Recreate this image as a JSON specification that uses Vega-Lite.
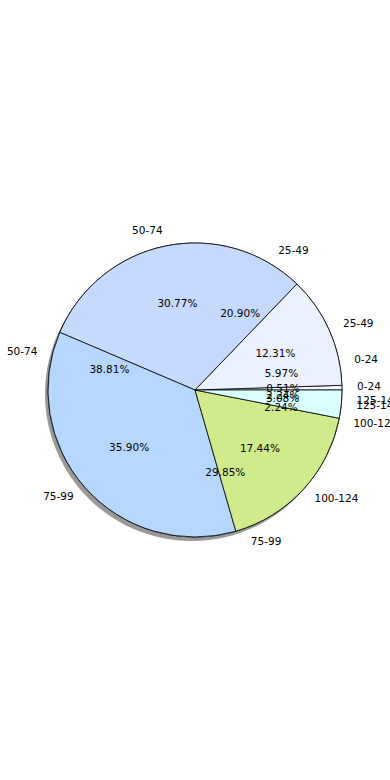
{
  "$schema": "https://vega.github.io/schema/vega-lite/v6.json",
  "width": 390,
  "height": 780,
  "autosize": {"type": "none"},
  "padding": 0,
  "background": "white",
  "config": {"view": {"stroke": null}, "text": {"font": "DejaVu Sans", "fontSize": 10.5, "fill": "black"}},
  "datasets": {
    "pieA": [
      {"i": 0, "cat": "0-24", "v": 5.97, "pct": "5.97%"},
      {"i": 1, "cat": "25-49", "v": 20.90, "pct": "20.90%"},
      {"i": 2, "cat": "50-74", "v": 38.81, "pct": "38.81%"},
      {"i": 3, "cat": "75-99", "v": 29.85, "pct": "29.85%"},
      {"i": 4, "cat": "100-124", "v": 2.24, "pct": "2.24%"},
      {"i": 5, "cat": "125-149", "v": 2.24, "pct": "2.24%"}
    ],
    "pieB": [
      {"i": 0, "cat": "0-24", "v": 0.51, "pct": "0.51%"},
      {"i": 1, "cat": "25-49", "v": 12.31, "pct": "12.31%"},
      {"i": 2, "cat": "50-74", "v": 30.77, "pct": "30.77%"},
      {"i": 3, "cat": "75-99", "v": 35.90, "pct": "35.90%"},
      {"i": 4, "cat": "100-124", "v": 17.44, "pct": "17.44%"},
      {"i": 5, "cat": "125-149", "v": 3.08, "pct": "3.08%"}
    ]
  },
  "layer": [
    {
      "data": {"name": "pieA"},
      "mark": {"type": "arc", "radius": 147, "xOffset": -3, "yOffset": 4, "fill": "#555555", "opacity": 0.6},
      "encoding": {
        "theta": {"field": "v", "type": "quantitative", "stack": true, "scale": {"domain": [0, 100.01], "range": [1.5707963, -4.712389]}},
        "order": {"field": "i"}
      }
    },
    {
      "data": {"name": "pieA"},
      "mark": {"type": "arc", "radius": 147, "stroke": "black", "strokeWidth": 0.8},
      "encoding": {
        "theta": {"field": "v", "type": "quantitative", "stack": true},
        "order": {"field": "i"},
        "color": {"field": "cat", "type": "nominal", "legend": null,
          "scale": {"domain": ["0-24", "25-49", "50-74", "75-99", "100-124", "125-149"],
                    "range": ["#F8F8FF", "#EBF1FF", "#C6D9FF", "#B6D7FF", "#D0EB8C", "#D9FFFF"]}}
      }
    },
    {
      "data": {"name": "pieB"},
      "mark": {"type": "arc", "radius": 147, "stroke": "black", "strokeWidth": 0.8},
      "encoding": {
        "theta": {"field": "v", "type": "quantitative", "stack": true},
        "order": {"field": "i"},
        "color": {"field": "cat", "type": "nominal", "legend": null}
      }
    },
    {
      "data": {"name": "pieA"},
      "mark": {"type": "text", "radius": 88, "align": "center", "baseline": "middle"},
      "encoding": {
        "theta": {"field": "v", "type": "quantitative", "stack": true},
        "order": {"field": "i"},
        "text": {"field": "pct"}
      }
    },
    {
      "data": {"name": "pieB"},
      "mark": {"type": "text", "radius": 88, "align": "center", "baseline": "middle"},
      "encoding": {
        "theta": {"field": "v", "type": "quantitative", "stack": true},
        "order": {"field": "i"},
        "text": {"field": "pct"}
      }
    },
    {
      "data": {"name": "pieA"},
      "mark": {"type": "text", "radius": 162, "baseline": "middle", "align": {"expr": "datum.cat == '50-74' ? 'right' : 'left'"}},
      "encoding": {
        "theta": {"field": "v", "type": "quantitative", "stack": true},
        "order": {"field": "i"},
        "text": {"field": "cat"}
      }
    },
    {
      "data": {"name": "pieB"},
      "mark": {"type": "text", "radius": 162, "baseline": "middle", "align": {"expr": "(datum.cat == '50-74' || datum.cat == '75-99') ? 'right' : 'left'"}},
      "encoding": {
        "theta": {"field": "v", "type": "quantitative", "stack": true},
        "order": {"field": "i"},
        "text": {"field": "cat"}
      }
    }
  ]
}
